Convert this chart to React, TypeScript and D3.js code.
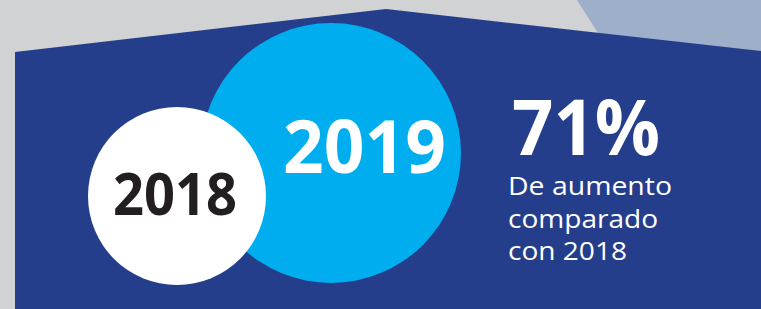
import { useEffect, useRef } from 'react';
import * as d3 from 'd3';

const width = 761;
const height = 309;

// datos
const years = ['2018', '2019'];
const increase = 71;
const captionLines = ['De aumento', 'comparado', 'con 2018'];

// colores
const bg = '#d1d2d4';
const navy = '#243e8c';
const cyan = '#00aeef';
const slate = '#9eafc9';

const App = () => {
  const svgRef = useRef<SVGSVGElement>(null);

  useEffect(() => {
    const svg = d3.select(svgRef.current);
    svg.selectAll('*').remove();

    svg.append('rect').attr('width', width).attr('height', height).attr('fill', bg);

    const line = d3.line();

    // triángulo claro arriba a la derecha
    svg.append('path')
      .attr('d', line([[577, 0], [width, 0], [width, 60], [615, 60]]) + 'Z')
      .attr('fill', slate);

    // "techo" azul oscuro
    svg.append('path')
      .attr('d', line([[15, 52], [386, 9], [width, 51], [width, height], [15, height]]) + 'Z')
      .attr('fill', navy);

    // círculos: el segundo año dibujado primero (queda detrás)
    const circles = [
      { year: years[1], cx: 331, cy: 153, r: 130, fill: cyan },
      { year: years[0], cx: 177, cy: 196, r: 89, fill: '#ffffff' },
    ];

    svg.selectAll('circle.year')
      .data(circles)
      .enter().append('circle')
      .attr('class', 'year')
      .attr('cx', d => d.cx)
      .attr('cy', d => d.cy)
      .attr('r', d => d.r)
      .attr('fill', d => d.fill);

    const font = "'Open Sans', 'DejaVu Sans', sans-serif";

    // etiquetas de año
    const labels = [
      { text: years[1], x: 283, y: 173, size: 74, len: 163, color: '#ffffff' },
      { text: years[0], x: 113, y: 215, size: 59, len: 124, color: '#231f20' },
    ];
    svg.selectAll('text.year')
      .data(labels)
      .enter().append('text')
      .attr('class', 'year')
      .attr('x', d => d.x)
      .attr('y', d => d.y)
      .attr('font-family', font)
      .attr('font-weight', 700)
      .attr('font-size', d => d.size)
      .attr('textLength', d => d.len)
      .attr('lengthAdjust', 'spacingAndGlyphs')
      .attr('fill', d => d.color)
      .text(d => d.text);

    // porcentaje
    svg.append('text')
      .attr('x', 512)
      .attr('y', 155)
      .attr('font-family', font)
      .attr('font-weight', 700)
      .attr('font-size', 77)
      .attr('textLength', 148)
      .attr('lengthAdjust', 'spacingAndGlyphs')
      .attr('fill', '#ffffff')
      .text(`${increase}%`);

    const lens = [164, 150, 119];
    svg.selectAll('text.caption')
      .data(captionLines)
      .enter().append('text')
      .attr('class', 'caption')
      .attr('x', 508)
      .attr('y', (_, i) => 195 + i * 32.5)
      .attr('font-family', font)
      .attr('font-size', 26)
      .attr('textLength', (_, i) => lens[i])
      .attr('lengthAdjust', 'spacingAndGlyphs')
      .attr('fill', '#ffffff')
      .text(d => d);
  }, []);

  return (
    <svg
      ref={svgRef}
      width={width}
      height={height}
      style={{ position: 'absolute', left: 0, top: 0, display: 'block' }}
    />
  );
};

export default App;
